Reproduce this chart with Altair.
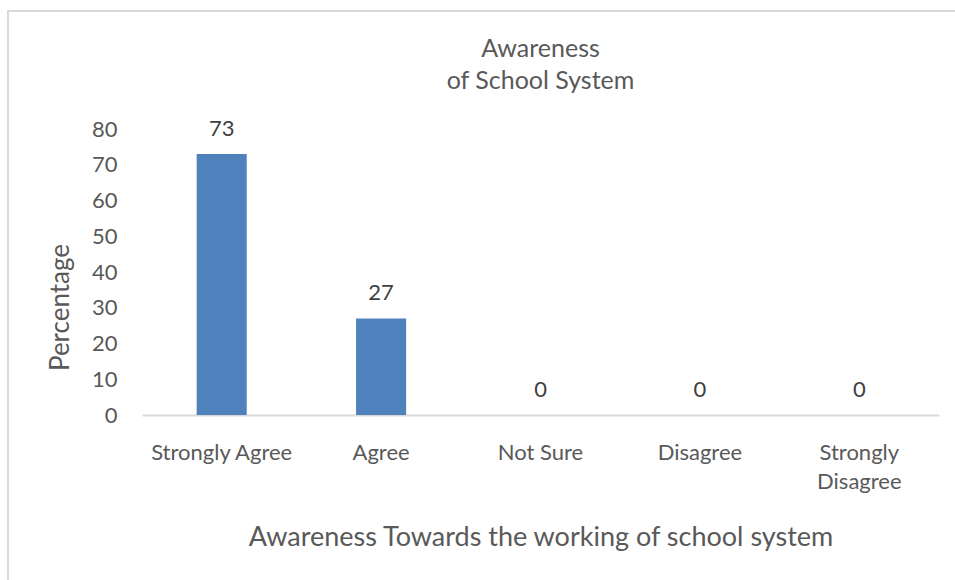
import altair as alt
import pandas as pd

categories = ["Strongly Agree", "Agree", "Not Sure", "Disagree", "Strongly Disagree"]
percentages = [73, 27, 0, 0, 0]
y_ticks = [0, 10, 20, 30, 40, 50, 60, 70, 80]
title_lines = ["Awareness", "of School System"]
x_title = "Awareness Towards the working of school system"
y_title = "Percentage"

df = pd.DataFrame({"category": categories, "percentage": percentages})
frame_df = pd.DataFrame({"k": [0]})

FONT = "Lato"
GRAY = "#595959"
LINE = "#D9D9D9"

x_enc = alt.X(
    "category:N",
    sort=categories,
    scale=alt.Scale(paddingInner=0.686, paddingOuter=0.343),
    axis=alt.Axis(
        title=x_title,
        labelAngle=0,
        labelExpr="datum.label == 'Strongly Disagree' ? ['Strongly', 'Disagree'] : datum.label",
        labelLineHeight=29,
        labelPadding=27,
        labelFontSize=22,
        labelColor=GRAY,
        labelFont=FONT,
        ticks=False,
        domainColor=LINE,
        domainWidth=2,
        titleFont=FONT,
        titleFontSize=27,
        titleFontWeight="normal",
        titleColor=GRAY,
        titleY=122,
        titleBaseline="middle",
    ),
)
y_enc = alt.Y(
    "percentage:Q",
    scale=alt.Scale(domain=[0, 80], nice=False),
    axis=alt.Axis(
        title=y_title,
        values=y_ticks,
        tickCount=9,
        labelOverlap=False,
        grid=False,
        domain=False,
        ticks=False,
        labelPadding=25,
        labelFontSize=22,
        labelColor=GRAY,
        labelFont=FONT,
        titleFont=FONT,
        titleFontSize=26,
        titleFontWeight="normal",
        titleColor=GRAY,
        titleAngle=-90,
        titleX=-82,
        titleY=178,
        titleAlign="center",
        titleBaseline="middle",
    ),
)

base = alt.Chart(df)
bars = base.mark_bar(color="#4F81BD").encode(x=x_enc, y=y_enc)
labels = base.mark_text(dy=-25, baseline="middle", fontSize=22, font=FONT, color="#404040").encode(
    x=x_enc, y=y_enc, text="percentage:Q"
)

frame_left = alt.Chart(frame_df).mark_rule(color=LINE, strokeWidth=2).encode(
    x=alt.value(-134), y=alt.value(-118), y2=alt.value(451)
)
frame_top = alt.Chart(frame_df).mark_rule(color=LINE, strokeWidth=2).encode(
    x=alt.value(-135), x2=alt.value(813), y=alt.value(-118)
)

chart = (
    alt.layer(frame_left, frame_top, bars, labels)
    .properties(
        width=797,
        height=286,
        autosize=alt.AutoSizeParams(type="none"),
        padding={"left": 142, "top": 129, "right": 16, "bottom": 165},
        background="white",
        title=alt.Title(
            text=title_lines,
            font=FONT,
            fontSize=25,
            fontWeight="normal",
            color=GRAY,
            lineHeight=32,
            anchor="middle",
            baseline="alphabetic",
            offset=0,
            dy=104,
        ),
    )
    .configure_view(stroke=None)
)

chart.save("out.html", embed_options={"renderer": "svg", "actions": False})
